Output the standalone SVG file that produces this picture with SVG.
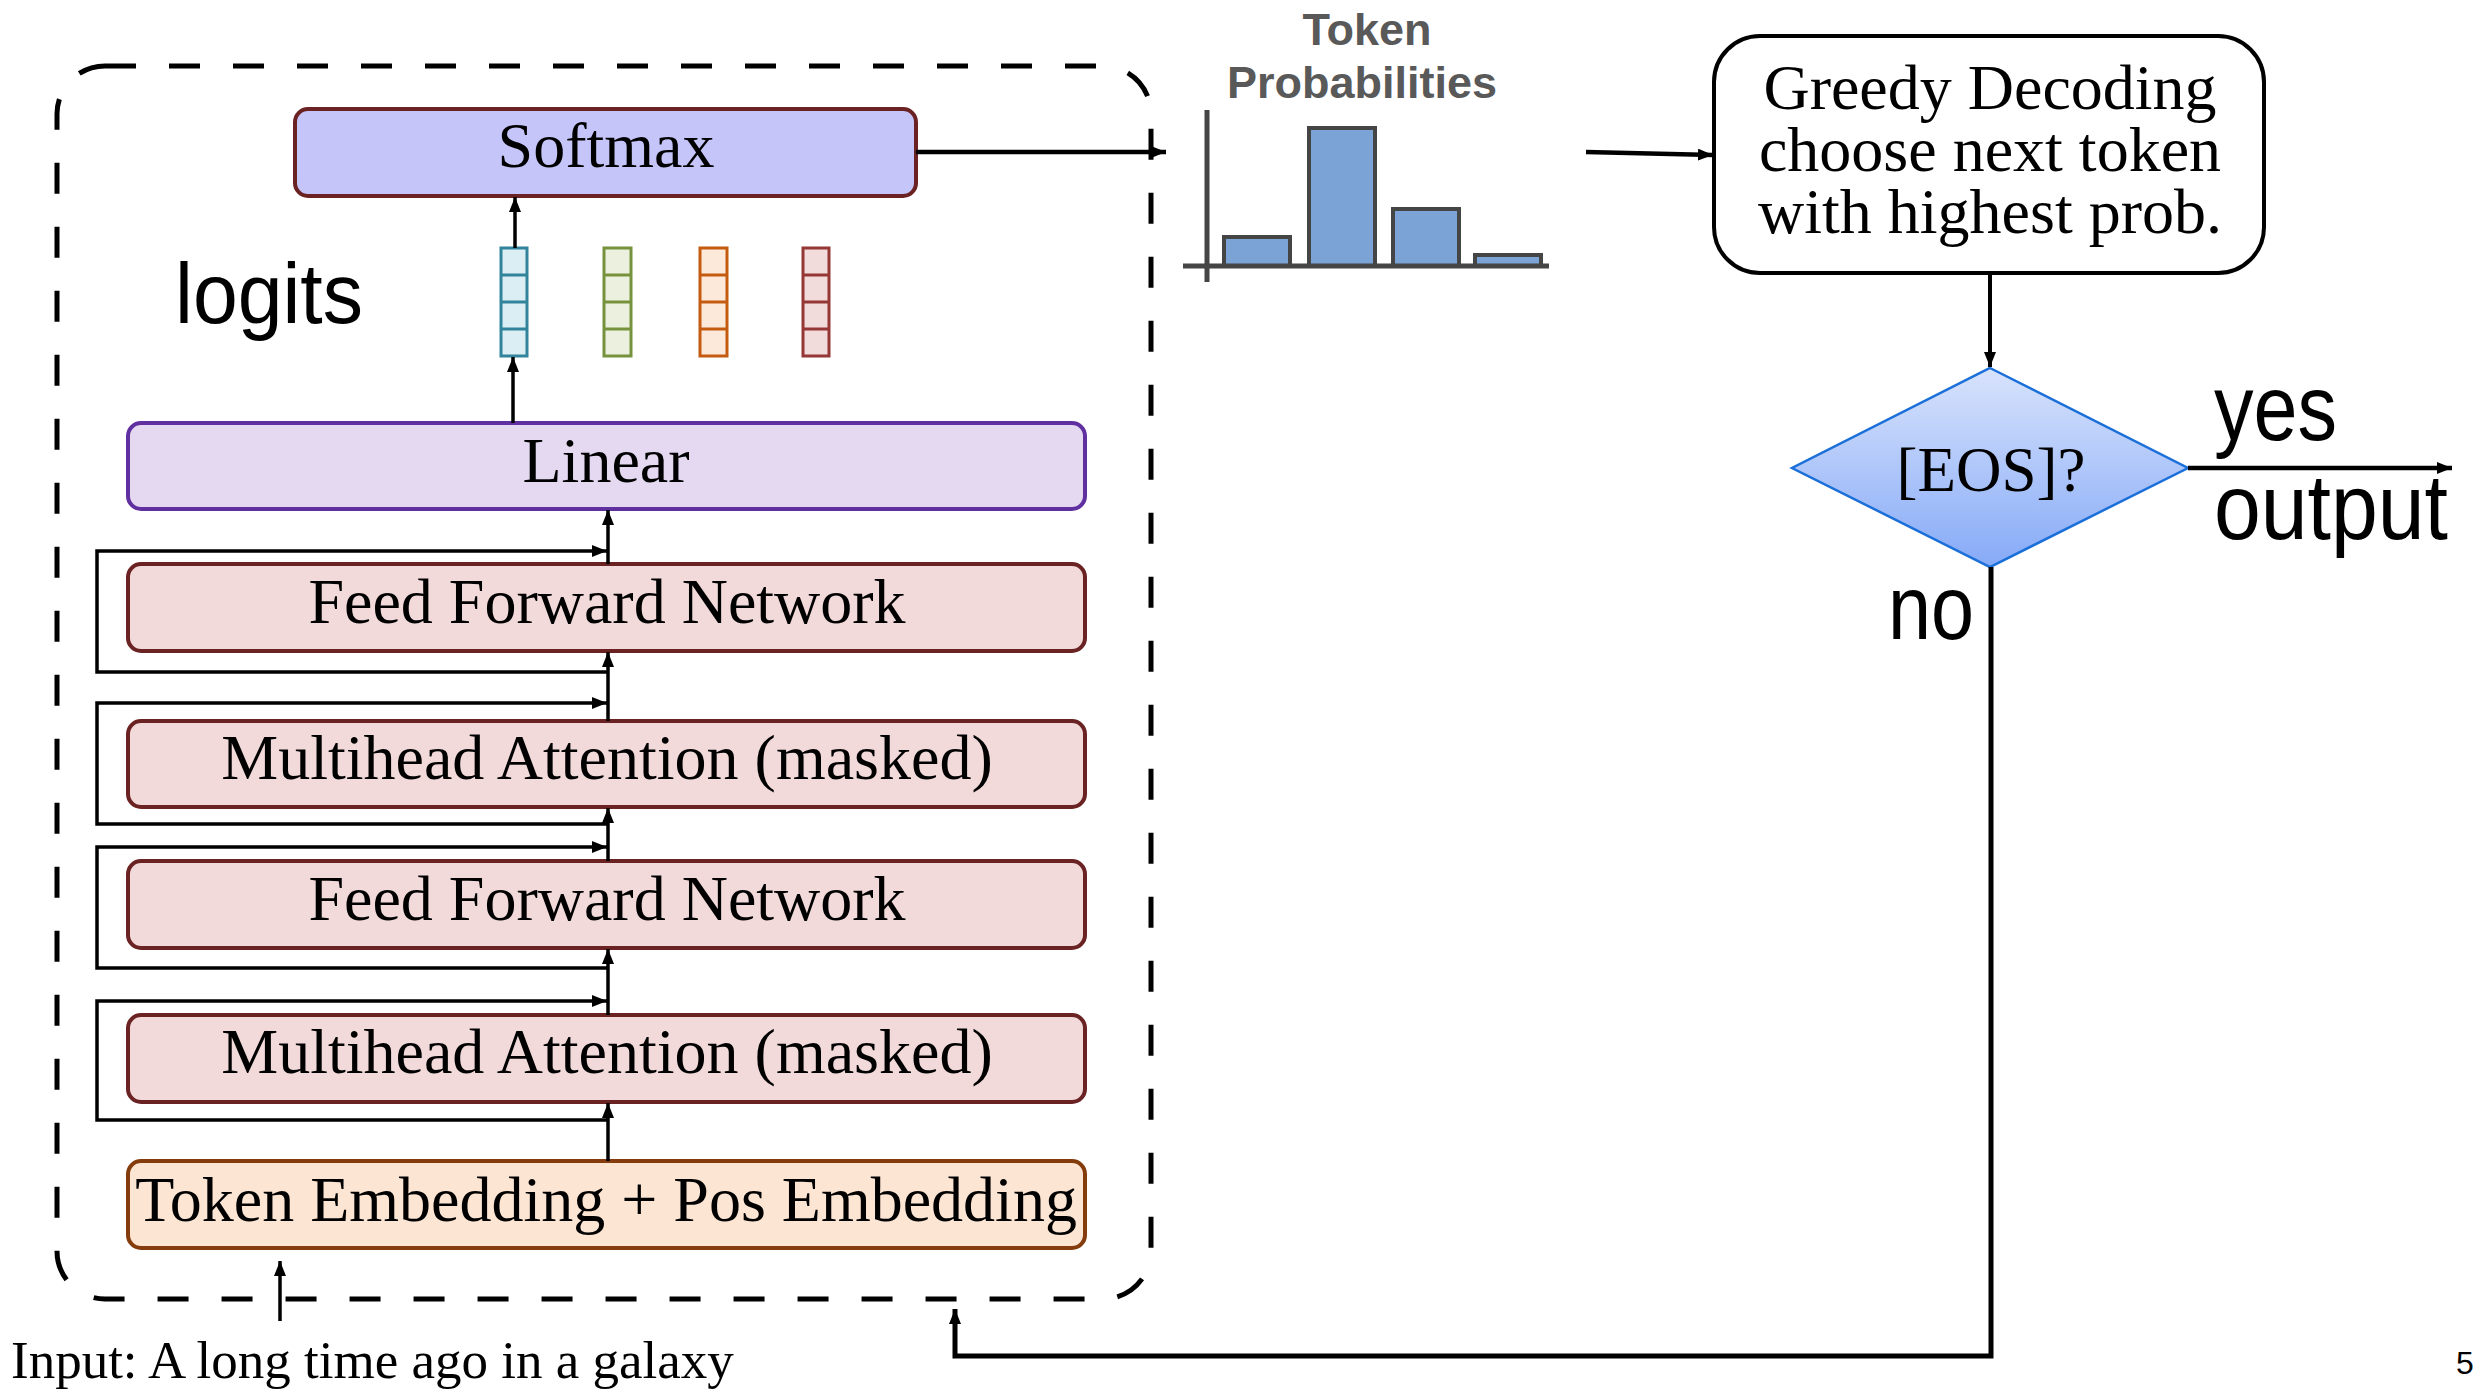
<svg xmlns="http://www.w3.org/2000/svg" width="2473" height="1390" viewBox="0 0 2473 1390">
  <defs>
    <marker id="ah" markerUnits="userSpaceOnUse" markerWidth="16" markerHeight="13" refX="15" refY="6" orient="auto">
      <path d="M0,0 L15,6 L0,12 z" fill="#000"/>
    </marker>
    <linearGradient id="diaFill" x1="0" y1="0" x2="0" y2="1">
      <stop offset="0" stop-color="#d8e3fc"/>
      <stop offset="1" stop-color="#86aaf7"/>
    </linearGradient>
    <style>
      .serif { font-family: "Liberation Serif", "Times New Roman", serif; fill: #000; }
      .sans { font-family: "Liberation Sans", Arial, sans-serif; fill: #000; }
      .box { stroke-width: 4; }
      .blk { fill: #f2dada; stroke: #6b2222; }
      .lbl { font-size: 64px; text-anchor: middle; }
      .conn { fill: none; stroke: #000; stroke-width: 3.5; }
      .vec rect { stroke-width: 3; }
      .vec line { stroke-width: 3; }
      .bar { fill: #7ba3d6; stroke: #454545; stroke-width: 4; }
      .grey { fill: #595959; }
    </style>
  </defs>

  <rect width="2473" height="1390" fill="#fff"/>

  <!-- decoder frame -->
  <rect id="decoder-frame" x="57" y="66" width="1094" height="1233" rx="48" ry="48" fill="none" stroke="#000" stroke-width="5" stroke-dasharray="31 33"/>

  <!-- decoder stack -->
  <g id="softmax">
    <rect class="box" x="295" y="109" width="621" height="87" rx="13" fill="#c5c5fa" stroke="#6b2222"/>
    <text class="serif lbl" x="606" y="167">Softmax</text>
  </g>

  <text id="logits-label" class="sans" x="175" y="323" font-size="86" textLength="188" lengthAdjust="spacingAndGlyphs">logits</text>

  <g id="logit-vec-1" class="vec">
    <rect x="501" y="248" width="26" height="108" fill="#dbeef4" stroke="#31849b"/>
    <g stroke="#31849b"><line x1="501" y1="275" x2="527" y2="275"/><line x1="501" y1="302" x2="527" y2="302"/><line x1="501" y1="329" x2="527" y2="329"/></g>
  </g>
  <g id="logit-vec-2" class="vec">
    <rect x="604" y="248" width="27" height="108" fill="#ebf1de" stroke="#76923c"/>
    <g stroke="#76923c"><line x1="604" y1="275" x2="631" y2="275"/><line x1="604" y1="302" x2="631" y2="302"/><line x1="604" y1="329" x2="631" y2="329"/></g>
  </g>
  <g id="logit-vec-3" class="vec">
    <rect x="700" y="248" width="27" height="108" fill="#fde9d9" stroke="#c55a11"/>
    <g stroke="#c55a11"><line x1="700" y1="275" x2="727" y2="275"/><line x1="700" y1="302" x2="727" y2="302"/><line x1="700" y1="329" x2="727" y2="329"/></g>
  </g>
  <g id="logit-vec-4" class="vec">
    <rect x="803" y="248" width="26" height="108" fill="#f2dcdb" stroke="#953735"/>
    <g stroke="#953735"><line x1="803" y1="275" x2="829" y2="275"/><line x1="803" y1="302" x2="829" y2="302"/><line x1="803" y1="329" x2="829" y2="329"/></g>
  </g>

  <g id="linear">
    <rect class="box" x="128" y="423" width="957" height="86" rx="13" fill="#e5d9f2" stroke="#6030a0"/>
    <text class="serif lbl" x="606" y="482">Linear</text>
  </g>

  <g id="ffn-2">
    <rect class="box blk" x="128" y="564" width="957" height="87" rx="13"/>
    <text class="serif lbl" x="607" y="623">Feed Forward Network</text>
  </g>

  <g id="mha-2">
    <rect class="box blk" x="128" y="721" width="957" height="86" rx="13"/>
    <text class="serif lbl" x="607" y="779">Multihead Attention (masked)</text>
  </g>

  <g id="ffn-1">
    <rect class="box blk" x="128" y="861" width="957" height="87" rx="13"/>
    <text class="serif lbl" x="607" y="920">Feed Forward Network</text>
  </g>

  <g id="mha-1">
    <rect class="box blk" x="128" y="1015" width="957" height="87" rx="13"/>
    <text class="serif lbl" x="607" y="1073">Multihead Attention (masked)</text>
  </g>

  <g id="embedding">
    <rect class="box" x="128" y="1161" width="957" height="87" rx="13" fill="#fde5d3" stroke="#843c0c"/>
    <text class="serif lbl" x="606" y="1221">Token Embedding + Pos Embedding</text>
  </g>

  <text id="input-text" class="serif" x="11" y="1378" font-size="53">Input: A long time ago in a galaxy</text>

  <!-- probability chart -->
  <g id="token-probabilities">
    <text class="sans grey" font-size="45" font-weight="bold" text-anchor="middle"><tspan x="1367" y="45">Token</tspan><tspan x="1362" y="98">Probabilities</tspan></text>
    <rect class="bar" x="1224" y="237" width="66" height="29"/>
    <rect class="bar" x="1309" y="128" width="66" height="138"/>
    <rect class="bar" x="1393" y="209" width="66" height="57"/>
    <rect class="bar" x="1475" y="255" width="66" height="11"/>
    <line x1="1207" y1="110" x2="1207" y2="282" stroke="#454545" stroke-width="5"/>
    <line x1="1183" y1="266" x2="1549" y2="266" stroke="#454545" stroke-width="5"/>
  </g>

  <g id="greedy-decoding">
    <rect x="1714" y="36" width="550" height="237" rx="46" fill="#fff" stroke="#000" stroke-width="4"/>
    <text class="serif" font-size="64" text-anchor="middle"><tspan x="1990" y="109">Greedy Decoding</tspan><tspan x="1990" y="171">choose next token</tspan><tspan x="1990" y="233">with highest prob.</tspan></text>
  </g>

  <g id="eos-check">
    <polygon points="1990,368 2188,468 1990,567 1792,468" fill="url(#diaFill)" stroke="#1b6fd9" stroke-width="2.5"/>
    <text class="serif" x="1991" y="491" font-size="63" text-anchor="middle">[EOS]?</text>
  </g>

  <text class="sans" x="2214" y="440" font-size="92" textLength="123" lengthAdjust="spacingAndGlyphs">yes</text>
  <text class="sans" x="2214" y="539" font-size="92" textLength="234" lengthAdjust="spacingAndGlyphs">output</text>
  <text class="sans" x="1888" y="639" font-size="90" textLength="86" lengthAdjust="spacingAndGlyphs">no</text>

  <text class="sans" x="2456" y="1374" font-size="32">5</text>

  <!-- connectors -->
  <g id="connectors" class="conn" marker-end="url(#ah)">
    <path d="M608,1161 V1103"/>
    <path d="M608,1120 H97 V1001 H607"/>
    <path d="M608,1015 V949"/>
    <path d="M608,968 H97 V847 H607"/>
    <path d="M608,861 V808"/>
    <path d="M608,824 H97 V703 H607"/>
    <path d="M608,721 V652"/>
    <path d="M608,672 H97 V551 H607"/>
    <path d="M608,564 V510"/>
    <path d="M513,423 V357"/>
    <path d="M515,248 V197"/>
    <path d="M916,152 H1166" stroke-width="4.5"/>
    <path d="M1586,152 L1713,155" stroke-width="4.5"/>
    <path d="M1990,273 V367" stroke-width="4"/>
    <path d="M2188,468 H2452" stroke-width="4.5"/>
    <path d="M1991,567 V1356 H955 V1309" stroke-width="5"/>
    <path d="M280,1321 V1261"/>
  </g>
</svg>
